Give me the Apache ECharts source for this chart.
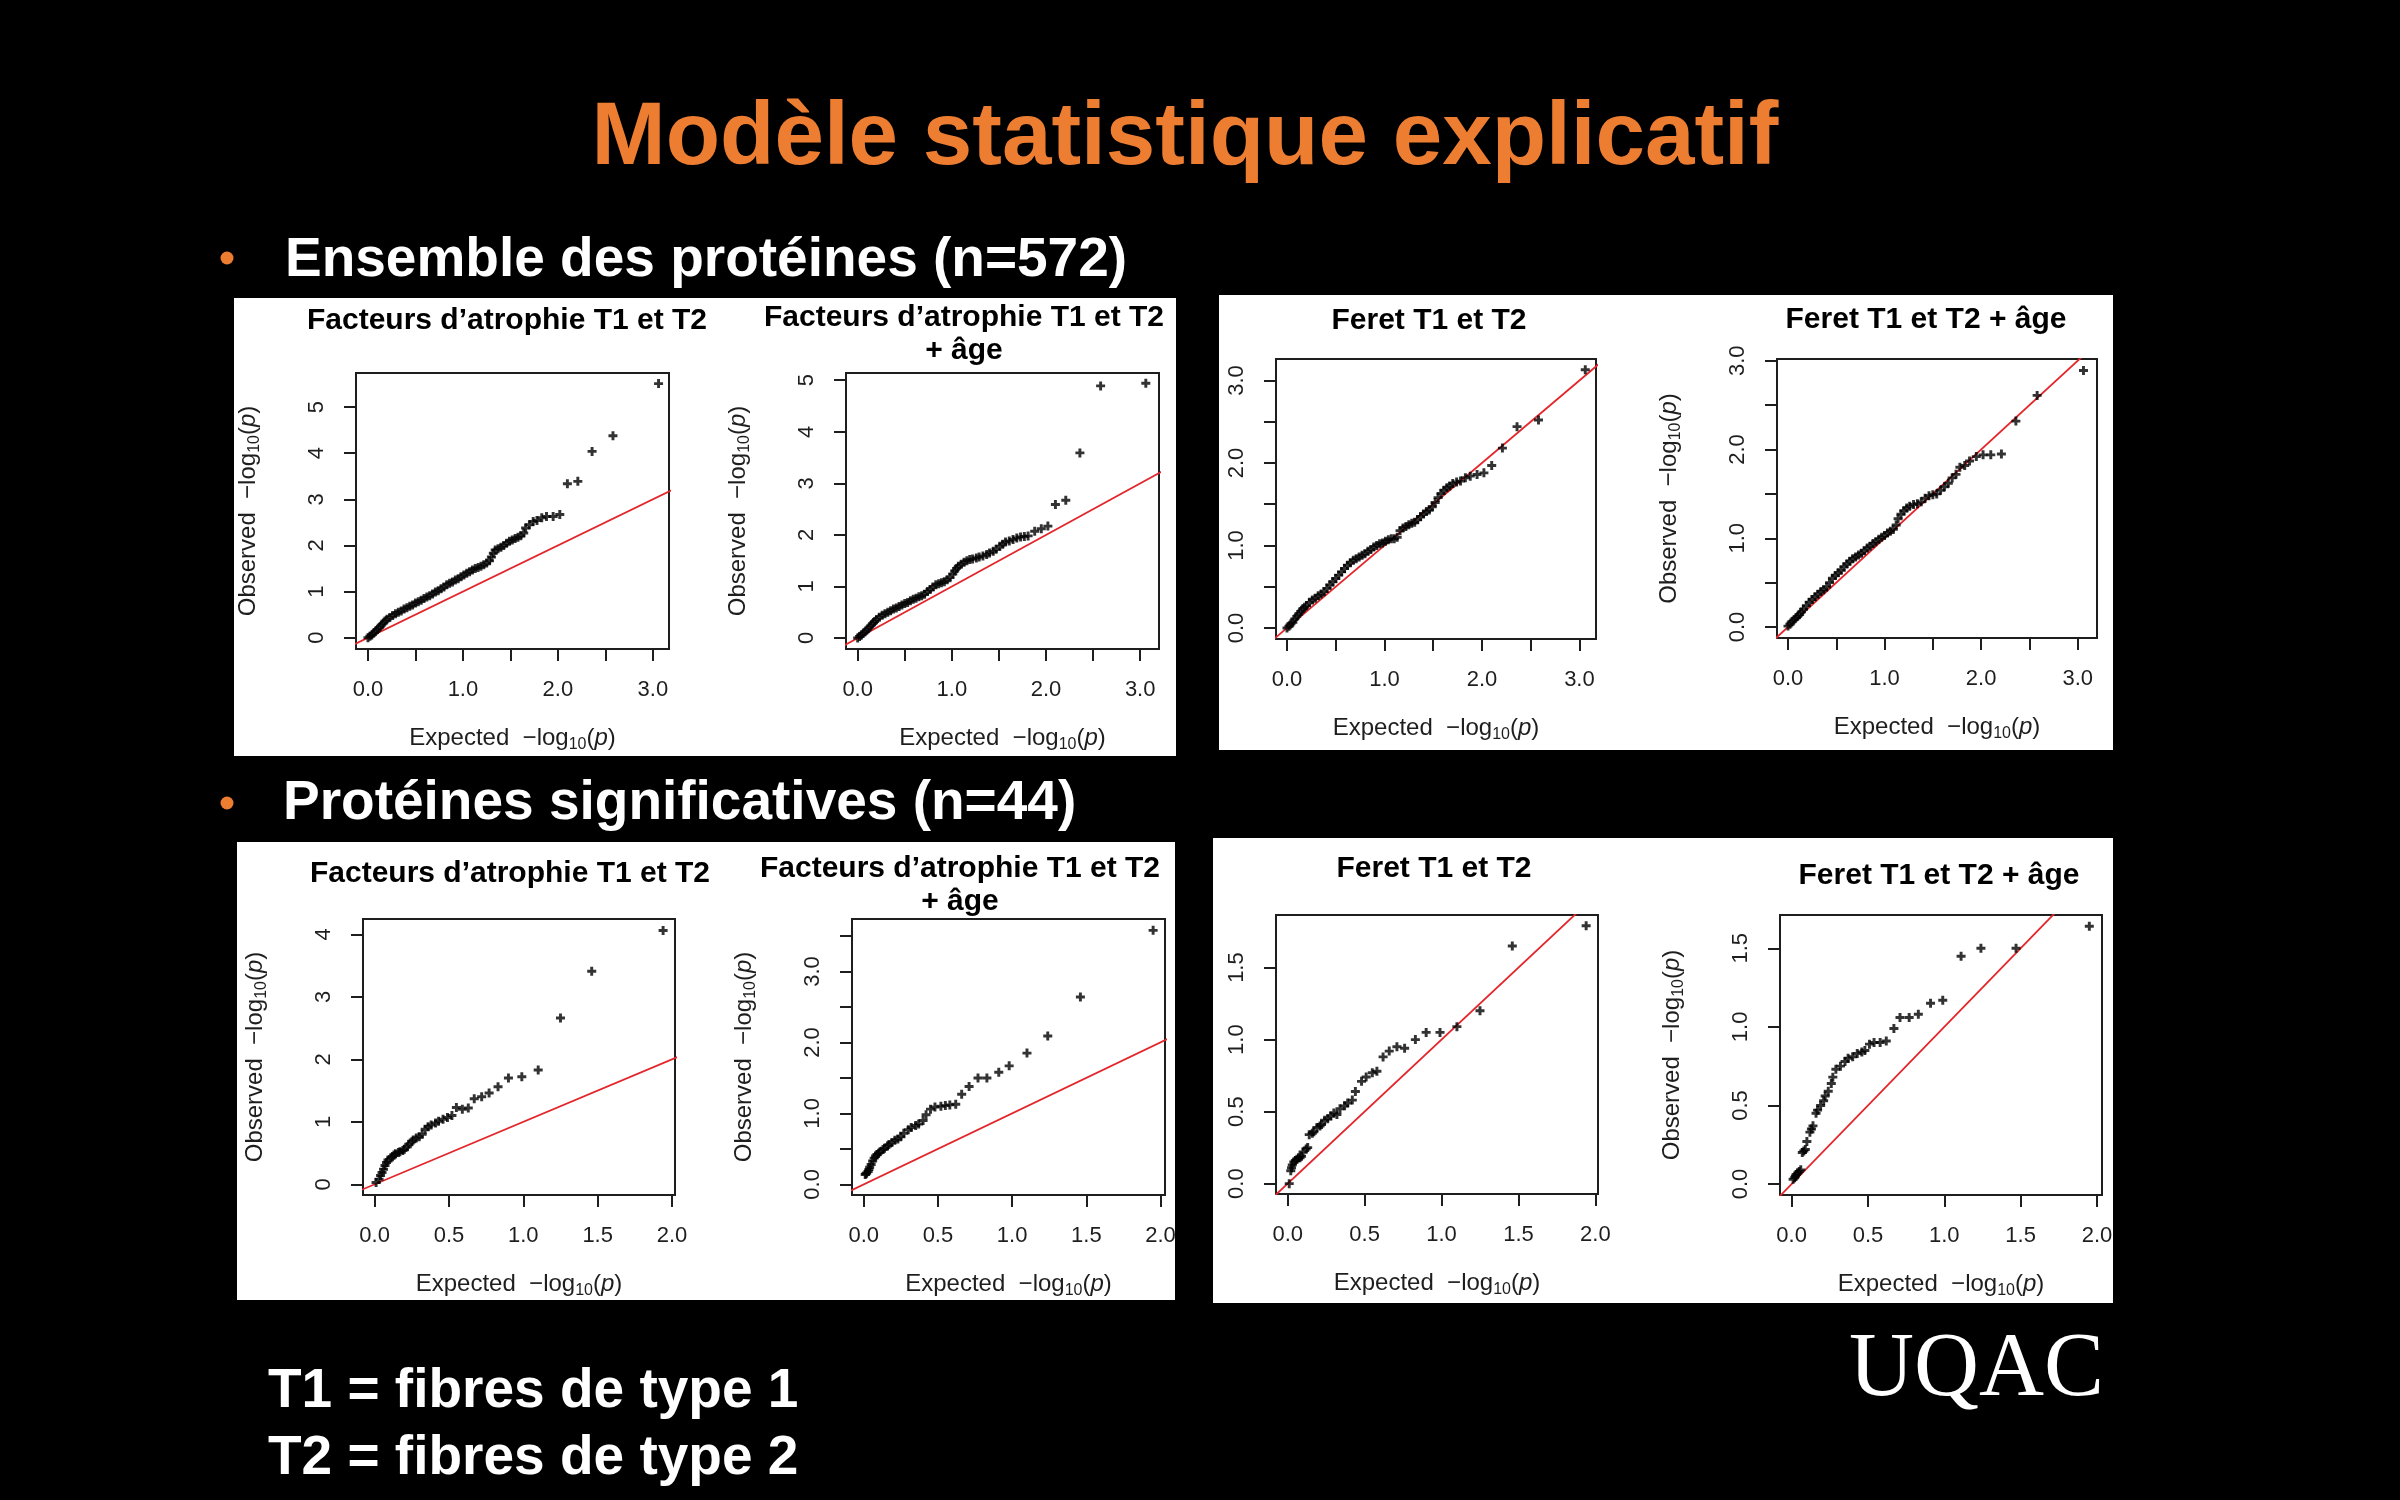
<!DOCTYPE html>
<html><head><meta charset="utf-8">
<script src="https://cdn.jsdelivr.net/npm/echarts@6/dist/echarts.min.js"></script>
<style>html,body{margin:0;padding:0;background:#000;}#c{width:2400px;height:1500px;}</style>
</head><body><div id="c"></div>
<script>
// ---------- texts ----------
const slideTitle = 'Modèle statistique explicatif';
const bulletTexts = ['Ensemble des protéines (n=572)', 'Protéines significatives (n=44)'];
const footnotes = ['T1 = fibres de type 1', 'T2 = fibres de type 2'];
const logoText = 'UQAC';
const panelTitles = [
  ['Facteurs d’atrophie T1 et T2'], ['Facteurs d’atrophie T1 et T2', '+ âge'],
  ['Feret T1 et T2'], ['Feret T1 et T2 + âge'],
  ['Facteurs d’atrophie T1 et T2'], ['Facteurs d’atrophie T1 et T2', '+ âge'],
  ['Feret T1 et T2'], ['Feret T1 et T2 + âge']
];

// ---------- data: [expected, observed] (-log10 p) ----------
const atrophie572 = [[0.00,0.00],[0.02,0.03],[0.04,0.06],[0.06,0.10],[0.08,0.14],[0.10,0.18],[0.12,0.22],[0.14,0.27],[0.16,0.31],[0.18,0.36],[0.20,0.40],[0.23,0.44],[0.26,0.48],[0.29,0.52],[0.32,0.55],[0.35,0.58],[0.38,0.62],[0.41,0.65],[0.44,0.68],[0.47,0.71],[0.50,0.75],[0.53,0.78],[0.56,0.81],[0.59,0.85],[0.62,0.88],[0.65,0.91],[0.68,0.95],[0.71,0.99],[0.74,1.02],[0.77,1.06],[0.80,1.10],[0.83,1.15],[0.86,1.18],[0.89,1.21],[0.92,1.25],[0.95,1.28],[0.98,1.32],[1.01,1.36],[1.04,1.40],[1.07,1.43],[1.10,1.47],[1.13,1.50],[1.16,1.52],[1.19,1.55],[1.22,1.58],[1.25,1.62],[1.28,1.67],[1.30,1.75],[1.32,1.83],[1.34,1.90],[1.37,1.93],[1.40,1.96],[1.43,2.00],[1.46,2.05],[1.49,2.09],[1.52,2.12],[1.55,2.15],[1.58,2.18],[1.61,2.21],[1.64,2.27],[1.66,2.38],[1.70,2.45],[1.74,2.52],[1.78,2.54],[1.83,2.60],[1.88,2.63],[1.95,2.63],[2.02,2.67],[2.10,3.34],[2.21,3.39],[2.36,4.04],[2.58,4.38],[3.06,5.51]];
const atrophieAge572 = [[0.00,0.00],[0.02,0.03],[0.04,0.06],[0.06,0.09],[0.08,0.12],[0.10,0.16],[0.12,0.20],[0.14,0.24],[0.16,0.28],[0.18,0.32],[0.20,0.36],[0.23,0.40],[0.26,0.44],[0.29,0.47],[0.32,0.50],[0.35,0.53],[0.38,0.56],[0.41,0.58],[0.44,0.61],[0.47,0.64],[0.50,0.67],[0.53,0.69],[0.56,0.72],[0.59,0.75],[0.62,0.77],[0.65,0.80],[0.68,0.82],[0.71,0.85],[0.74,0.90],[0.77,0.94],[0.80,0.99],[0.83,1.03],[0.86,1.05],[0.89,1.07],[0.92,1.09],[0.95,1.13],[0.98,1.17],[1.01,1.24],[1.03,1.30],[1.05,1.35],[1.07,1.39],[1.10,1.43],[1.13,1.47],[1.16,1.50],[1.19,1.52],[1.22,1.53],[1.26,1.55],[1.29,1.57],[1.33,1.59],[1.37,1.62],[1.40,1.65],[1.44,1.68],[1.47,1.72],[1.51,1.78],[1.54,1.82],[1.57,1.86],[1.61,1.88],[1.65,1.91],[1.69,1.94],[1.73,1.96],[1.77,1.97],[1.81,1.98],[1.88,2.07],[1.95,2.12],[2.02,2.17],[2.10,2.59],[2.21,2.67],[2.36,3.59],[2.58,4.89],[3.06,4.94]];
const feret572 = [[0.00,0.00],[0.02,0.02],[0.04,0.05],[0.06,0.07],[0.08,0.11],[0.10,0.14],[0.12,0.17],[0.14,0.20],[0.16,0.23],[0.18,0.25],[0.20,0.27],[0.23,0.31],[0.26,0.34],[0.29,0.36],[0.32,0.39],[0.35,0.41],[0.38,0.44],[0.41,0.48],[0.44,0.52],[0.47,0.56],[0.50,0.60],[0.53,0.64],[0.56,0.68],[0.59,0.72],[0.62,0.76],[0.65,0.79],[0.68,0.82],[0.71,0.84],[0.74,0.86],[0.77,0.88],[0.80,0.90],[0.83,0.93],[0.86,0.95],[0.89,0.98],[0.92,1.00],[0.95,1.02],[0.98,1.03],[1.01,1.05],[1.04,1.07],[1.07,1.08],[1.10,1.08],[1.13,1.10],[1.16,1.18],[1.19,1.21],[1.22,1.23],[1.25,1.25],[1.28,1.27],[1.31,1.28],[1.34,1.31],[1.37,1.35],[1.40,1.38],[1.43,1.41],[1.46,1.43],[1.49,1.47],[1.52,1.52],[1.55,1.58],[1.58,1.63],[1.61,1.67],[1.64,1.70],[1.67,1.72],[1.70,1.75],[1.74,1.77],[1.78,1.78],[1.83,1.82],[1.88,1.84],[1.95,1.86],[2.02,1.88],[2.10,1.97],[2.21,2.18],[2.36,2.44],[2.58,2.52],[3.06,3.13]];
const feretAge572 = [[0.00,0.01],[0.02,0.03],[0.04,0.06],[0.06,0.08],[0.08,0.10],[0.10,0.12],[0.12,0.14],[0.14,0.17],[0.16,0.20],[0.19,0.24],[0.22,0.28],[0.25,0.31],[0.28,0.34],[0.31,0.37],[0.34,0.40],[0.37,0.42],[0.40,0.45],[0.43,0.50],[0.46,0.55],[0.49,0.58],[0.52,0.61],[0.55,0.64],[0.58,0.68],[0.61,0.71],[0.64,0.74],[0.67,0.77],[0.70,0.79],[0.73,0.81],[0.76,0.83],[0.79,0.86],[0.82,0.89],[0.85,0.91],[0.88,0.94],[0.91,0.96],[0.94,0.99],[0.97,1.01],[1.00,1.03],[1.03,1.06],[1.06,1.08],[1.09,1.10],[1.12,1.15],[1.14,1.22],[1.17,1.27],[1.20,1.31],[1.23,1.34],[1.26,1.36],[1.30,1.38],[1.34,1.39],[1.38,1.41],[1.42,1.45],[1.46,1.48],[1.50,1.49],[1.54,1.50],[1.58,1.54],[1.62,1.58],[1.66,1.62],[1.70,1.68],[1.74,1.72],[1.78,1.80],[1.83,1.82],[1.88,1.87],[1.95,1.92],[2.02,1.94],[2.10,1.94],[2.21,1.95],[2.36,2.32],[2.58,2.61],[3.06,2.89]];
const atrophie44 = [[1.94,4.06],[1.46,3.41],[1.25,2.66],[1.10,1.83],[0.99,1.72],[0.90,1.70],[0.83,1.56],[0.77,1.46],[0.72,1.40],[0.67,1.37],[0.63,1.22],[0.59,1.20],[0.55,1.23],[0.52,1.10],[0.49,1.07],[0.46,1.04],[0.43,1.01],[0.41,0.98],[0.38,0.95],[0.36,0.92],[0.34,0.88],[0.32,0.80],[0.30,0.76],[0.28,0.74],[0.26,0.71],[0.25,0.68],[0.23,0.64],[0.22,0.60],[0.20,0.56],[0.19,0.54],[0.17,0.52],[0.16,0.51],[0.14,0.49],[0.13,0.47],[0.12,0.44],[0.11,0.42],[0.09,0.39],[0.08,0.35],[0.07,0.30],[0.06,0.24],[0.05,0.19],[0.04,0.14],[0.03,0.08],[0.01,0.03]];
const atrophieAge44 = [[1.95,3.58],[1.46,2.64],[1.24,2.09],[1.10,1.85],[0.98,1.67],[0.91,1.58],[0.83,1.50],[0.77,1.50],[0.71,1.38],[0.66,1.27],[0.62,1.13],[0.58,1.12],[0.55,1.11],[0.52,1.10],[0.48,1.09],[0.45,1.06],[0.42,0.98],[0.40,0.90],[0.37,0.85],[0.35,0.83],[0.32,0.80],[0.30,0.77],[0.27,0.72],[0.25,0.67],[0.23,0.64],[0.21,0.62],[0.19,0.59],[0.17,0.56],[0.16,0.54],[0.14,0.51],[0.13,0.49],[0.11,0.46],[0.10,0.44],[0.09,0.42],[0.08,0.40],[0.07,0.37],[0.06,0.33],[0.05,0.28],[0.04,0.24],[0.035,0.21],[0.03,0.18],[0.02,0.16],[0.015,0.15],[0.01,0.14]];
const feret44 = [[1.94,1.79],[1.46,1.65],[1.25,1.20],[1.10,1.09],[0.99,1.05],[0.90,1.05],[0.83,1.00],[0.76,0.94],[0.71,0.95],[0.66,0.92],[0.62,0.88],[0.58,0.78],[0.55,0.77],[0.51,0.74],[0.48,0.71],[0.44,0.64],[0.42,0.58],[0.39,0.56],[0.37,0.54],[0.34,0.52],[0.32,0.48],[0.30,0.49],[0.28,0.47],[0.26,0.45],[0.24,0.44],[0.22,0.41],[0.21,0.40],[0.19,0.39],[0.17,0.36],[0.16,0.35],[0.14,0.34],[0.13,0.25],[0.12,0.24],[0.10,0.22],[0.09,0.19],[0.08,0.18],[0.07,0.18],[0.06,0.17],[0.05,0.16],[0.04,0.15],[0.03,0.13],[0.025,0.11],[0.02,0.09],[0.01,0.00]];
const feretAge44 = [[1.95,1.64],[1.47,1.50],[1.24,1.50],[1.11,1.45],[0.99,1.17],[0.91,1.15],[0.83,1.08],[0.77,1.06],[0.71,1.06],[0.67,0.99],[0.62,0.91],[0.58,0.90],[0.54,0.90],[0.51,0.89],[0.48,0.85],[0.46,0.84],[0.43,0.83],[0.40,0.81],[0.37,0.80],[0.35,0.78],[0.32,0.75],[0.29,0.73],[0.27,0.68],[0.26,0.64],[0.24,0.59],[0.22,0.56],[0.21,0.53],[0.19,0.50],[0.17,0.47],[0.16,0.45],[0.14,0.37],[0.13,0.35],[0.12,0.33],[0.10,0.27],[0.09,0.22],[0.08,0.21],[0.07,0.20],[0.06,0.09],[0.05,0.08],[0.04,0.07],[0.03,0.06],[0.025,0.05],[0.02,0.04],[0.01,0.03]];
const identityLine = [[-1, -1], [10, 10]];

// ---------- ticks ----------
const xTicks572 = [0, 0.5, 1, 1.5, 2, 2.5, 3];
const xLabels572 = [0, 1, 2, 3];
const xTicks44 = [0, 0.5, 1, 1.5, 2];
const xLabels44 = [0, 0.5, 1, 1.5, 2];
const yTicksAtrophie572 = [0, 1, 2, 3, 4, 5];
const yTicksFeret572 = [0, 0.5, 1, 1.5, 2, 2.5, 3];
const yLabelsFeret572 = [0, 1, 2, 3];
const yTicksAtrophie44 = [0, 1, 2, 3, 4];
const yTicksAtrophieAge44 = [0, 0.5, 1, 1.5, 2, 2.5, 3, 3.5];
const yLabelsAtrophieAge44 = [0, 1, 2, 3];
const yTicksFeret44 = [0, 0.5, 1, 1.5];

const datasets = [atrophie572, atrophieAge572, feret572, feretAge572, atrophie44, atrophieAge44, feret44, feretAge44];
const xTickSets = [xTicks572, xTicks572, xTicks572, xTicks572, xTicks44, xTicks44, xTicks44, xTicks44];
const xLabelSets = [xLabels572, xLabels572, xLabels572, xLabels572, xLabels44, xLabels44, xLabels44, xLabels44];
const yTickSets = [yTicksAtrophie572, yTicksAtrophie572, yTicksFeret572, yTicksFeret572, yTicksAtrophie44, yTicksAtrophieAge44, yTicksFeret44, yTicksFeret44];
const yLabelSets = [yTicksAtrophie572, yTicksAtrophie572, yLabelsFeret572, yLabelsFeret572, yTicksAtrophie44, yLabelsAtrophieAge44, yTicksFeret44, yTicksFeret44];

// ---------- layout (pixels) ----------
const layout = [
  {l:356, t:373, w:313, h:276, xr:[-0.126,3.17], yr:[-0.245,5.74], yInt:true,  yName:true,  tx:507,  ty:331, tl:33},
  {l:846, t:373, w:313, h:276, xr:[-0.124,3.20], yr:[-0.214,5.14], yInt:true,  yName:true,  tx:964,  ty:328, tl:33},
  {l:1276,t:359, w:320, h:280, xr:[-0.113,3.17], yr:[-0.134,3.26], yInt:false, yName:false, tx:1429, ty:331, tl:33},
  {l:1777,t:359, w:320, h:279, xr:[-0.114,3.20], yr:[-0.124,3.02], yInt:false, yName:true,  tx:1926, ty:330, tl:33},
  {l:363, t:919, w:312, h:276, xr:[-0.078,2.02], yr:[-0.171,4.245],yInt:true,  yName:true,  tx:510,  ty:884, tl:33},
  {l:852, t:919, w:313, h:276, xr:[-0.079,2.03], yr:[-0.15,3.74],  yInt:false, yName:true,  tx:960,  ty:879, tl:33},
  {l:1276,t:915, w:322, h:279, xr:[-0.076,2.017],yr:[-0.072,1.865],yInt:false, yName:false, tx:1434, ty:879, tl:33},
  {l:1780,t:915, w:322, h:280, xr:[-0.076,2.033],yr:[-0.07,1.712], yInt:false, yName:true,  tx:1939, ty:886, tl:33}
];
const boxes = [[234,298,942,458],[1219,295,894,455],[237,842,938,458],[1213,838,900,465]];

const SANS = '"Liberation Sans", Arial, sans-serif';
const ORANGE = '#ED7D31';
const INK = '#1e1e1e';
const plusPath = 'path://M2.7,0H5.3V2.7H8V5.3H5.3V8H2.7V5.3H0V2.7H2.7Z';
const nameRich = {
  n: {fontSize: 24, color: INK, fontFamily: SANS, lineHeight: 29, verticalAlign: 'top'},
  s: {fontSize: 16, color: INK, fontFamily: SANS, lineHeight: 29, verticalAlign: 'top', padding: [11, 0, 0, 0]},
  i: {fontSize: 24, color: INK, fontFamily: SANS, fontStyle: 'italic', lineHeight: 29, verticalAlign: 'top'}
};
const xName = '{n|Expected  −log}{s|10}{n|(}{i|p}{n|)}';
const yName = '{n|Observed  −log}{s|10}{n|(}{i|p}{n|)}';

const grid = [], xAxis = [], yAxis = [], series = [];
layout.forEach((p, i) => {
  grid.push({left: p.l, top: p.t, width: p.w, height: p.h, show: true, borderColor: INK, borderWidth: 2, backgroundColor: 'transparent'});
  const tickStyle = {show: true, length: 12, lineStyle: {color: INK, width: 2}};
  xAxis.push({
    type: 'value', gridIndex: i, min: p.xr[0], max: p.xr[1],
    splitLine: {show: false}, axisLine: {show: false, onZero: false},
    axisTick: Object.assign({customValues: xTickSets[i]}, tickStyle),
    axisLabel: {customValues: xLabelSets[i], formatter: v => Number(v).toFixed(1), margin: 30, fontSize: 22, color: INK, fontFamily: SANS},
    name: xName, nameLocation: 'middle', nameGap: 77, nameTextStyle: {rich: nameRich}
  });
  const ya = {
    type: 'value', gridIndex: i, min: p.yr[0], max: p.yr[1],
    splitLine: {show: false}, axisLine: {show: false, onZero: false},
    axisTick: Object.assign({customValues: yTickSets[i]}, tickStyle),
    axisLabel: {customValues: yLabelSets[i], rotate: 90, formatter: p.yInt ? (v => String(Math.round(v))) : (v => Number(v).toFixed(1)), margin: 28, fontSize: 22, color: INK, fontFamily: SANS}
  };
  if (p.yName) Object.assign(ya, {name: yName, nameLocation: 'middle', nameGap: 91, nameTextStyle: {rich: nameRich}});
  yAxis.push(ya);
  series.push({type: 'line', xAxisIndex: i, yAxisIndex: i, data: identityLine, showSymbol: false, symbol: 'none', clip: true, lineStyle: {color: '#e3262b', width: 1.8}, z: 2, silent: true});
  series.push({type: 'scatter', xAxisIndex: i, yAxisIndex: i, data: datasets[i], symbol: plusPath, symbolSize: 9, itemStyle: {color: '#000'}, z: 3, silent: true});
});

const graphic = [];
boxes.forEach(b => graphic.push({type: 'rect', z: -1, shape: {x: b[0], y: b[1], width: b[2], height: b[3]}, style: {fill: '#fff'}}));
function txt(text, x, baseline, size, opts) {
  const o = Object.assign({weight: 'bold', color: '#000', align: 'center', family: SANS, k: 0.35}, opts || {});
  graphic.push({type: 'text', z: 10, x: x, y: baseline - o.k * size, style: {text: text, fontSize: size, fontWeight: o.weight, fontFamily: o.family, fill: o.color, textAlign: o.align, align: o.align, textVerticalAlign: 'middle', verticalAlign: 'middle'}});
}
txt(slideTitle, 1185, 171, 89, {color: ORANGE});
txt(bulletTexts[0], 285, 280, 55, {color: '#fff', align: 'left'});
txt(bulletTexts[1], 283, 823, 55, {color: '#fff', align: 'left'});
graphic.push({type: 'circle', z: 10, shape: {cx: 227, cy: 258, r: 6.5}, style: {fill: ORANGE}});
graphic.push({type: 'circle', z: 10, shape: {cx: 227, cy: 803, r: 6.5}, style: {fill: ORANGE}});
txt(footnotes[0], 268, 1411, 55, {color: '#fff', align: 'left'});
txt(footnotes[1], 268, 1478, 55, {color: '#fff', align: 'left'});
txt(logoText, 1849, 1402, 90, {color: '#fff', align: 'left', weight: 'normal', family: '"Liberation Serif", "Times New Roman", serif', k: 0.34});
layout.forEach((p, i) => {
  panelTitles[i].forEach((line, j) => txt(line, p.tx, p.ty + j * p.tl, 30, {}));
});

const chart = echarts.init(document.getElementById('c'), null, {renderer: 'canvas'});
chart.setOption({backgroundColor: '#000', animation: false, grid, xAxis, yAxis, series, graphic});
</script></body></html>
